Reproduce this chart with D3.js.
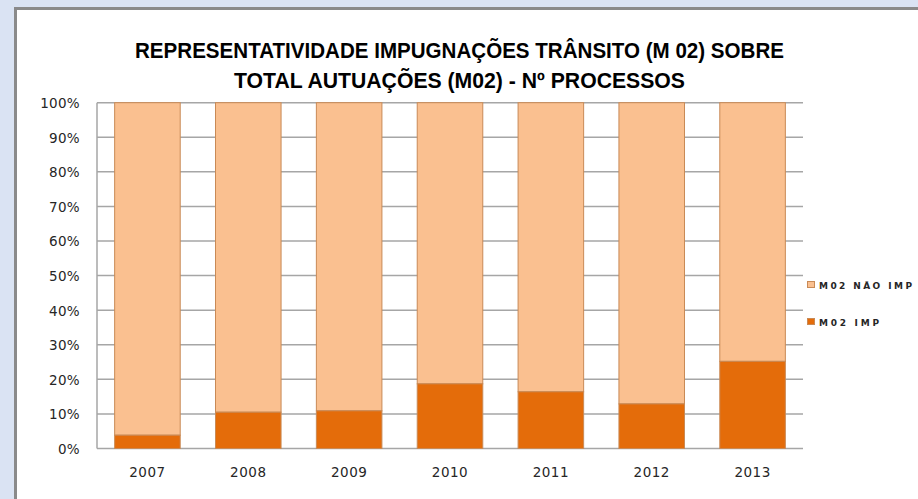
<!DOCTYPE html>
<html><head><meta charset="utf-8">
<script src="https://cdn.jsdelivr.net/npm/d3@7"></script>
<style>
html,body{margin:0;padding:0;background:#dae3f3;}
svg{display:block;}
</style></head>
<body>
<script>
const years = ["2007","2008","2009","2010","2011","2012","2013"];
const impValues = [3.85, 10.5, 10.9, 18.7, 16.4, 12.9, 25.2];
const naoImpValues = impValues.map(v => 100 - v);
const seriesNames = ["M02 IMP", "M02 NÃO IMP"];
const yTicks = [0,10,20,30,40,50,60,70,80,90,100];
const titleLines = ["REPRESENTATIVIDADE IMPUGNAÇÕES TRÂNSITO (M 02) SOBRE", "TOTAL AUTUAÇÕES (M02) - Nº PROCESSOS"];
const colors = {imp:"#e46c0a", nao:"#fac090"};

const W = 918, H = 499;
const svg = d3.select("body").append("svg").attr("width", W).attr("height", H);
svg.append("rect").attr("width", W).attr("height", H).attr("fill", "#dae3f3");
svg.append("rect").attr("x", 15.5).attr("y", 8.5).attr("width", W).attr("height", H)
  .attr("fill", "#fff").attr("stroke", "#8a8a8a").attr("stroke-width", 3);

const m = {l:97, r:803, t:102.7, b:448.5};
const x = d3.scaleBand().domain(years).range([m.l, m.r]).paddingInner(0.35).paddingOuter(0.175);
const y = d3.scaleLinear().domain([0,100]).range([m.b, m.t]);

const g = svg.append("g");
g.selectAll("line.grid").data(yTicks).join("line")
  .attr("x1", m.l).attr("x2", m.r).attr("y1", d=>y(d)).attr("y2", d=>y(d))
  .attr("stroke", "#a6a6a6").attr("stroke-width", 1.5);
g.append("line").attr("x1", m.l).attr("x2", m.l).attr("y1", m.t).attr("y2", m.b)
  .attr("stroke", "#a6a6a6").attr("stroke-width", 1.5);

const data = years.map((yr,i)=>({yr, imp:impValues[i], nao:naoImpValues[i]}));
const bars = g.selectAll("g.bar").data(data).join("g");
bars.append("rect").attr("x", d=>x(d.yr)).attr("width", x.bandwidth())
  .attr("y", d=>y(d.imp+d.nao)).attr("height", d=>y(d.imp)-y(d.imp+d.nao))
  .attr("fill", colors.nao).attr("stroke", "#c98a56").attr("stroke-width", 1);
bars.append("rect").attr("x", d=>x(d.yr)).attr("width", x.bandwidth())
  .attr("y", d=>y(d.imp)).attr("height", d=>y(0)-y(d.imp))
  .attr("fill", colors.imp).attr("stroke", "#c98a56").attr("stroke-width", 1);

const yAxis = d3.axisLeft(y).tickValues(yTicks).tickSize(0).tickPadding(17).tickFormat(d=>d+"%");
const ya = svg.append("g").attr("transform", `translate(${m.l},0)`).call(yAxis);
ya.select(".domain").remove();
ya.selectAll("text").attr("font-family","DejaVu Sans").attr("font-size", 13.5).attr("letter-spacing", 0.3)
  .attr("fill","#262626").attr("dy","0.36em");

const xAxis = d3.axisBottom(x).tickSize(0).tickPadding(18);
const xa = svg.append("g").attr("transform", `translate(0,${m.b})`).call(xAxis);
xa.select(".domain").remove();
xa.selectAll("text").attr("font-family","DejaVu Sans").attr("font-size", 13.5).attr("letter-spacing", 0.5)
  .attr("fill","#262626").attr("dy","0.8em");

const titleWidths = [649, 451];
svg.append("g").selectAll("text").data(titleLines).join("text")
  .attr("x", 459.5).attr("y", (d,i)=>57.7+i*30.6).attr("text-anchor","middle")
  .attr("font-family","Liberation Sans, Arial, sans-serif").attr("font-weight","bold")
  .attr("font-size", 21.5).attr("fill","#000")
  .attr("textLength", (d,i)=>titleWidths[i]).attr("lengthAdjust","spacingAndGlyphs").text(d=>d);

const legendItems = [{name:seriesNames[1], color:colors.nao, y:281, w:93},{name:seriesNames[0], color:colors.imp, y:318, w:60}];
const lg = svg.append("g").selectAll("g").data(legendItems).join("g");
lg.append("rect").attr("x", 807.5).attr("y", d=>d.y+0.5).attr("width", 7).attr("height", 6)
  .attr("fill", d=>d.color).attr("stroke","#c98a56").attr("stroke-width",1);
lg.append("text").attr("x", 819).attr("y", d=>d.y+8).attr("font-family","DejaVu Sans")
  .attr("font-size", 9).attr("font-weight","bold").attr("fill","#262626")
  .attr("textLength", d=>d.w).attr("lengthAdjust","spacing").text(d=>d.name);
</script>
</body></html>
